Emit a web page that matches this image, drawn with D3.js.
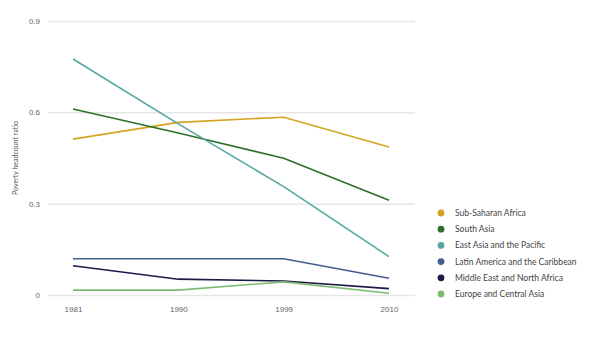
<!DOCTYPE html>
<html>
<head>
<meta charset="utf-8">
<script src="https://cdn.jsdelivr.net/npm/d3@7"></script>
<style>
  body { margin: 0; background: #fff; }
  svg { font-family: "Lato", "Open Sans", sans-serif; }
  .tick text { fill: #666; font-size: 8px; }
  .legend text { fill: #444; font-size: 8.5px; }
</style>
</head>
<body>
<div id="chart"></div>
<script>
// survey years and the regions plotted
var years = ["1981", "1990", "1999", "2010"];
var regions = ["Sub-Saharan Africa", "South Asia", "East Asia and the Pacific",
	"Latin America and the Caribbean", "Middle East and North Africa", "Europe and Central Asia"];
var colors = ["#d4a420", "#2d6f2c", "#55a8a2", "#435d8c", "#1d1a48", "#7dbd72"];

// poverty headcount ratio per region, one value per year
var subSaharan = [0.512, 0.567, 0.584, 0.486];
var southAsia = [0.611, 0.532, 0.449, 0.311];
var eastAsia = [0.775, 0.562, 0.356, 0.126];
var latinAmerica = [0.119, 0.119, 0.119, 0.055];
var middleEast = [0.096, 0.052, 0.046, 0.021];
var europeCentral = [0.016, 0.016, 0.043, 0.006];
var yTicks = [0, 0.3, 0.6, 0.9];

var series = [subSaharan, southAsia, eastAsia, latinAmerica, middleEast, europeCentral];

var width = 600, height = 344;
var plot = {left: 48, right: 415, top: 21, bottom: 295};

var svg = d3.select("#chart").append("svg")
	.attr("width", width)
	.attr("height", height);

var x = d3.scalePoint()
	.domain(years)
	.range([73, 389]);

var y = d3.scaleLinear()
	.domain([0, 0.9])
	.range([plot.bottom, plot.top]);

// horizontal gridlines with labels on the left
var yAxis = svg.append("g")
	.attr("transform", "translate(" + plot.left + ",0)")
	.call(d3.axisLeft(y).tickValues(yTicks).tickFormat(d => d === 0 ? "0" : d3.format(".1f")(d))
		.tickSize(-(plot.right - plot.left)).tickPadding(8));
yAxis.select(".domain").remove();
yAxis.selectAll(".tick line").attr("stroke", "#e6e6e6").attr("stroke-width", 1.5);

// year labels along the bottom
var xAxis = svg.append("g")
	.attr("transform", "translate(0," + plot.bottom + ")")
	.call(d3.axisBottom(x).tickSize(0).tickPadding(11));
xAxis.select(".domain").remove();

svg.append("text")
	.attr("transform", "translate(18," + ((plot.top + plot.bottom) / 2) + ") rotate(-90)")
	.attr("text-anchor", "middle")
	.attr("fill", "#555")
	.style("font-size", "7px")
	.text("Poverty headcount ratio");

var line = d3.line()
	.x((d, i) => x(years[i]))
	.y(d => y(d));

svg.append("g").selectAll("path")
	.data(series)
	.enter().append("path")
		.attr("d", line)
		.attr("fill", "none")
		.attr("stroke", (d, i) => colors[i])
		.attr("stroke-width", 1.6)
		.attr("stroke-linejoin", "round");

// legend, one row per region
var legend = svg.append("g")
	.attr("class", "legend")
	.attr("transform", "translate(441,213)");

var rows = legend.selectAll("g")
	.data(regions)
	.enter().append("g")
		.attr("transform", (d, i) => "translate(0," + (i * 16.2) + ")");

rows.append("circle")
	.attr("r", 3.4)
	.attr("fill", (d, i) => colors[i]);

rows.append("text")
	.attr("x", 14)
	.attr("dy", "0.35em")
	.text(d => d);
</script>
</body>
</html>
